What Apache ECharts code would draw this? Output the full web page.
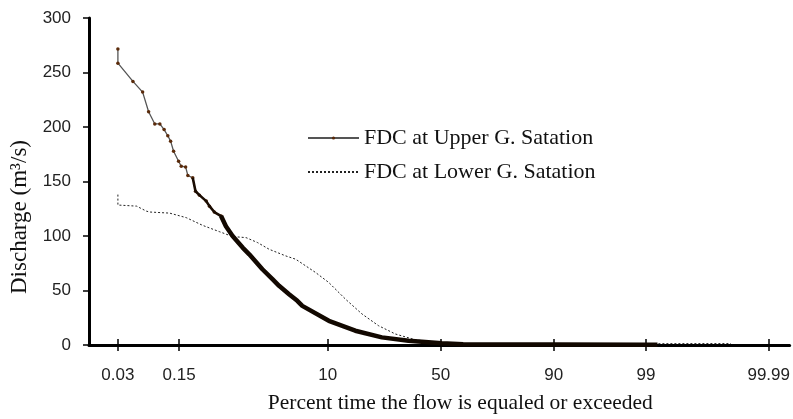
<!DOCTYPE html>
<html><head><meta charset="utf-8">
<script src="https://cdn.jsdelivr.net/npm/echarts@6/dist/echarts.min.js"></script>
<style>html,body{margin:0;padding:0;background:#fff}#c{width:793px;height:419px}</style>
</head><body><div id="c"></div>
<script>
// Tick labels on the probability (normal) x axis and the percent where each is drawn
const tickLabels = ['0.03', '0.15', '10', '50', '90', '99', '99.99'];
const tickPercent = [0.0125, 0.15, 10, 50, 90, 99, 99.99];
const yTicks = [0, 50, 100, 150, 200, 250, 300];

// FDC at Upper G. Satation  (percent of time exceeded, discharge m3/s)
const upperPercent = [0.0125, 0.0125, 0.024, 0.036, 0.046, 0.059, 0.072, 0.085, 0.098, 0.109, 0.122, 0.147, 0.162, 0.19, 0.206, 0.245, 0.27, 0.31, 0.39, 0.435, 0.51, 0.635, 0.74, 0.91, 1.23, 1.49, 2.15, 2.81, 3.33, 4.26, 5.18, 5.81, 10.2, 16.6, 25.2, 35.7, 50.4, 60, 75, 90, 99, 99.3];
const upperFlow = [271.6, 258.6, 241.8, 232, 214, 202.8, 202.8, 197.6, 192, 187, 177.7, 168.6, 164, 163.4, 155.5, 153.4, 141, 137.5, 132, 127.4, 122, 118.3, 109, 100, 89.4, 83.2, 69.5, 60.4, 54.3, 46.6, 40.5, 35.9, 22.2, 13.1, 7.0, 3.9, 1.5, 0.8, 0.5, 0.4, 0.3, 0.2];

// FDC at Lower G. Satation
const lowerPercent = [0.0125, 0.0125, 0.028, 0.042, 0.048, 0.105, 0.195, 0.344, 0.60, 0.91, 1.36, 1.88, 2.58, 3.94, 4.99, 7.78, 10.2, 14.0, 18.6, 24.0, 30.3, 38.6, 50.4, 60, 75, 90, 99, 99.9, 99.95];
const lowerFlow = [138, 128.4, 127.4, 122.8, 122, 121, 116.8, 109.8, 104, 99.5, 98.5, 94, 87.8, 81.7, 78.7, 66.5, 57.3, 42, 28.4, 17.7, 10.1, 4.8, 1.8, 1.2, 1.0, 1.0, 1.2, 1.3, 1.3];

const upperName = 'FDC at Upper G. Satation';
const lowerName = 'FDC at Lower G. Satation';

// inverse standard normal CDF (Acklam)
function probit(p) {
  const a = [-3.969683028665376e+01, 2.209460984245205e+02, -2.759285104469687e+02, 1.383577518672690e+02, -3.066479806614716e+01, 2.506628277459239e+00];
  const b = [-5.447609879822406e+01, 1.615858368580409e+02, -1.556989798598866e+02, 6.680131188771972e+01, -1.328068155288572e+01];
  const c = [-7.784894002430293e-03, -3.223964580411365e-01, -2.400758277161838e+00, -2.549671602313310e+00, 4.374664141464968e+00, 2.938163982698783e+00];
  const d = [7.784695709041462e-03, 3.224671290700398e-01, 2.445134137142996e+00, 3.754408661907416e+00];
  const pl = 0.02425, ph = 1 - pl;
  let q, r;
  if (p < pl) {
    q = Math.sqrt(-2 * Math.log(p));
    return (((((c[0]*q+c[1])*q+c[2])*q+c[3])*q+c[4])*q+c[5]) / ((((d[0]*q+d[1])*q+d[2])*q+d[3])*q+1);
  } else if (p <= ph) {
    q = p - 0.5; r = q*q;
    return (((((a[0]*r+a[1])*r+a[2])*r+a[3])*r+a[4])*r+a[5])*q / (((((b[0]*r+b[1])*r+b[2])*r+b[3])*r+b[4])*r+1);
  } else {
    q = Math.sqrt(-2 * Math.log(1 - p));
    return -(((((c[0]*q+c[1])*q+c[2])*q+c[3])*q+c[4])*q+c[5]) / ((((d[0]*q+d[1])*q+d[2])*q+d[3])*q+1);
  }
}
const toZ = p => probit(p / 100);
const tickZ = tickPercent.map(toZ);
const upperData = upperPercent.map((p, i) => [toZ(p), upperFlow[i]]);
const lowerData = lowerPercent.map((p, i) => [toZ(p), lowerFlow[i]]);
// the dense run of plotted points thickens the upper curve
const medStart = upperPercent.indexOf(0.245);
const medEnd = upperPercent.indexOf(0.91);
const denseStart = upperPercent.indexOf(0.635);
const sparseEnd = upperPercent.indexOf(0.74);

const labelFmt = v => {
  for (let i = 0; i < tickZ.length; i++) if (Math.abs(tickZ[i] - v) < 1e-6) return tickLabels[i];
  return '';
};
const xMin = -3.99, xMax = 3.956;
const sans = 'Liberation Sans';
const serif = 'Liberation Serif';

const chart = echarts.init(document.getElementById('c'), null, {renderer: 'canvas'});
chart.setOption({
  animation: false,
  backgroundColor: '#fff',
  grid: {left: 89, right: 0, top: 18, bottom: 73, containLabel: false},
  legend: {
    data: [
      {name: upperName},
      {name: lowerName, itemStyle: {opacity: 0}}
    ],
    orient: 'vertical', left: 302, top: 122,
    itemWidth: 51, itemHeight: 4, itemGap: 12,
    textStyle: {fontFamily: serif, fontSize: 22, color: '#111'}
  },
  xAxis: [{
    type: 'value', min: xMin, max: xMax,
    name: 'Percent time the flow is equaled or exceeded',
    nameLocation: 'middle', nameGap: 47,
    nameTextStyle: {fontFamily: serif, fontSize: 21.5, color: '#111', padding: [0, 0, 0, 42]},
    axisLine: {show: true, onZero: false, lineStyle: {color: '#000', width: 3}},
    axisTick: {show: true, length: 6, lineStyle: {color: '#000', width: 1.5}, customValues: tickZ},
    axisLabel: {show: true, margin: 22, customValues: tickZ, formatter: labelFmt, fontFamily: sans, fontSize: 17, color: '#222'},
    splitLine: {show: false}
  }, {
    type: 'value', min: xMin, max: xMax, position: 'bottom',
    axisLine: {show: false, onZero: false},
    axisTick: {show: true, inside: true, length: 6, lineStyle: {color: '#000', width: 1.5}, customValues: tickZ},
    axisLabel: {show: false},
    splitLine: {show: false}
  }],
  yAxis: {
    type: 'value', min: 0, max: 300, interval: 50,
    name: 'Discharge (m³/s)', nameLocation: 'middle', nameGap: 54, nameRotate: 90,
    nameTextStyle: {fontFamily: serif, fontSize: 23, color: '#111', padding: [0, 71, 0, 0]},
    axisLine: {show: true, onZero: false, lineStyle: {color: '#000', width: 3}},
    axisTick: {show: true, length: 6, lineStyle: {color: '#000', width: 1.5}},
    axisLabel: {margin: 18, fontFamily: sans, fontSize: 17, color: '#222'},
    splitLine: {show: false}
  },
  series: [{
    name: upperName, type: 'line',
    data: upperData.slice(0, sparseEnd + 1),
    symbol: 'circle', symbolSize: 3.5, showSymbol: true,
    lineStyle: {color: '#555', width: 1.3},
    itemStyle: {color: '#5a2a0a', borderWidth: 0},
    z: 3
  }, {
    name: 'medium', type: 'line',
    data: upperData.slice(medStart, medEnd + 1),
    symbol: 'none',
    lineStyle: {color: '#1a0c02', width: 2.6},
    z: 4
  }, {
    name: 'dense', type: 'line',
    data: upperData.slice(denseStart),
    symbol: 'none',
    lineStyle: {color: '#120800', width: 4.5},
    z: 5
  }, {
    name: lowerName, type: 'line',
    data: lowerData,
    symbol: 'none',
    lineStyle: {color: '#222', width: 1, type: [2, 2]},
    itemStyle: {color: '#222'},
    z: 2
  }]
});
</script></body></html>
